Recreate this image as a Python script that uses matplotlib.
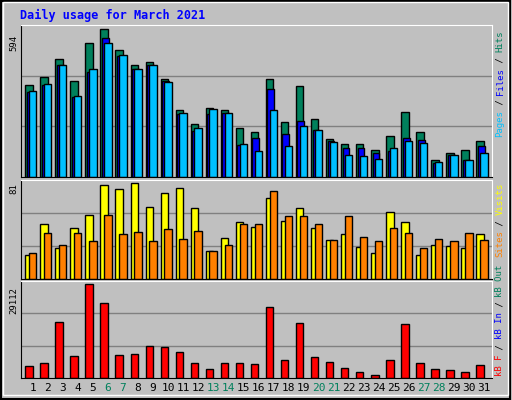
import numpy as np
import matplotlib
matplotlib.use('Agg')
import matplotlib.pyplot as plt
from matplotlib.patches import Rectangle

days = np.arange(1, 32)
hits = [371, 404, 473, 387, 541, 594, 509, 452, 464, 396, 270, 213, 278, 270, 197, 181,
        396, 221, 367, 234, 153, 132, 132, 108, 165, 262, 181, 68, 96, 108, 144]
files = [340, 369, 452, 320, 421, 558, 485, 433, 452, 387, 254, 185, 254, 258, 128, 157,
         355, 173, 225, 189, 144, 116, 116, 96, 104, 157, 149, 55, 88, 68, 124]
pages = [348, 375, 452, 327, 436, 541, 489, 436, 452, 383, 258, 197, 274, 258, 132, 104,
         270, 124, 205, 189, 140, 88, 84, 72, 116, 144, 136, 59, 88, 68, 96]
visits = [20, 47, 26, 43, 54, 80, 76, 81, 61, 73, 77, 60, 24, 35, 48, 44,
          69, 49, 60, 43, 33, 38, 27, 22, 57, 48, 20, 29, 28, 26, 38]
sites = [22, 39, 29, 39, 32, 54, 38, 40, 32, 42, 34, 41, 24, 29, 47, 47,
         75, 53, 53, 47, 33, 53, 36, 32, 43, 39, 26, 34, 32, 39, 33]
kbytes = [3610, 4570, 17310, 6800, 29112, 23360, 7120, 7430, 9980, 9660, 8070, 4570, 2650, 4570,
          4570, 4250, 22090, 5520, 16990, 6480, 4890, 2970, 2020, 1060, 5520, 16670, 4570, 2650,
          2340, 2020, 3930]
weekends = [6, 7, 13, 14, 20, 21, 27, 28]

GREEN = '#00805C'
BG = '#C0C0C0'

fig = plt.figure(figsize=(5.12, 4.0), dpi=100)
fig.patch.set_facecolor(BG)
fig.patches.append(Rectangle((0.002, 0.003), 0.994, 0.994, transform=fig.transFigure,
                             fill=False, edgecolor='black', lw=1.5))
fig.patches.append(Rectangle((0.006, 0.012), 0.986, 0.983, transform=fig.transFigure,
                             fill=False, edgecolor='white', lw=1))


def px_axes(top, bottom, left=20.7, right=491.5):
    return fig.add_axes([left / 512, 1 - bottom / 400, (right - left) / 512, (bottom - top) / 400])


def style(ax, ymax):
    ax.set_facecolor(BG)
    ax.set_xlim(0.7, 32.0)
    ax.set_ylim(0, ymax)
    for y in (ymax / 3, 2 * ymax / 3):
        ax.axhline(y, color='#808080', lw=1, zorder=0)
    ax.spines['top'].set_color('white')
    ax.spines['right'].set_color('white')
    ax.spines['left'].set_color('black')
    ax.spines['bottom'].set_color('black')
    ax.set_xticks([])
    ax.set_yticks([])


bk = dict(edgecolor='black', linewidth=1, align='edge', zorder=2)

ax1 = px_axes(25, 177)
style(ax1, 594 * 453 / 440)
ax1.bar(days + 0.0, hits, 0.49, color=GREEN, **bk)
ax1.bar(days + 0.1, files, 0.45, color='#0000FF', **bk)
ax1.bar(days + 0.25, pages, 0.49, color='#00C0FF', **bk)

ax2 = px_axes(180, 279)
style(ax2, 81 * 285 / 275)
ax2.bar(days + 0.0, visits, 0.49, color='#FFFF00', **bk)
ax2.bar(days + 0.25, sites, 0.49, color='#FF8000', **bk)

ax3 = px_axes(281, 378)
style(ax3, 29112 * 284 / 274)
ax3.bar(days + 0.0, kbytes, 0.49, color='#FF0000', **bk)

for d in days:
    ax3.text(d + 0.5, -0.05, str(d), transform=ax3.get_xaxis_transform(), ha='center', va='top',
             fontsize=8, family='DejaVu Sans Mono', color=GREEN if d in weekends else 'black')

fig.text(20 / 512, 1 - 15 / 400, 'Daily usage for March 2021', color='#0000FF', fontsize=8.5,
         fontweight='bold', family='DejaVu Sans Mono', va='center')

mono = dict(family='DejaVu Sans Mono', fontsize=6.5, rotation=90, ha='center', va='bottom')
fig.text(14 / 512, 1 - 51 / 400, '594', **mono)
fig.text(14 / 512, 1 - 194 / 400, '81', **mono)
fig.text(14 / 512, 1 - 314 / 400, '29112', **mono)


def stacked_label(pieces, bottom_px, x_px=500, cw=5.3):
    y = bottom_px
    for s, c in pieces:
        fig.text(x_px / 512, 1 - y / 400, s, color=c, **mono)
        y -= cw * len(s)


stacked_label([('Pages', '#00C0FF'), (' / ', 'black'), ('Files', '#0000FF'),
               (' / ', 'black'), ('Hits', GREEN)], 137)
stacked_label([('Sites', '#FF8000'), (' / ', 'black'), ('Visits', '#FFFF00')], 257)
stacked_label([('kB F', '#FF0000'), (' / ', 'black'), ('kB In', '#0000FF'),
               (' / ', 'black'), ('kB Out', GREEN)], 376)

fig.savefig('out.png', dpi=100, facecolor=BG)
